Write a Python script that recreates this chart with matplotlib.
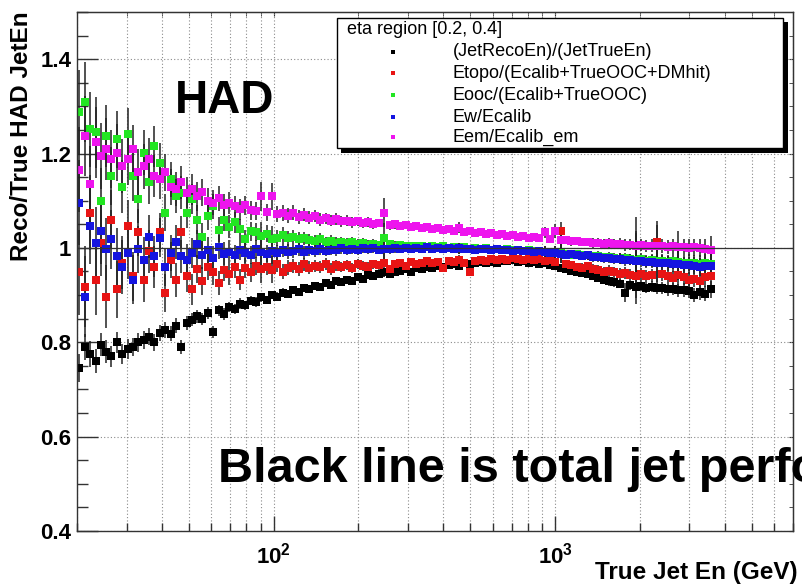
import matplotlib
matplotlib.use('Agg')
import matplotlib.pyplot as plt
from matplotlib.ticker import FixedLocator, FixedFormatter, LogLocator, MultipleLocator, NullFormatter
from matplotlib.patches import Rectangle
from matplotlib.lines import Line2D

plt.rcParams['font.family'] = ['Liberation Sans', 'DejaVu Sans']
plt.rcParams['font.weight'] = 'bold'
plt.rcParams['mathtext.fontset'] = 'custom'
plt.rcParams['mathtext.bf'] = 'Liberation Sans:bold'
plt.rcParams['mathtext.rm'] = 'Liberation Sans'

# bin centres (GeV)
energy = [
    20.4, 21.3, 22.3, 23.3, 24.3, 25.4, 26.5, 27.7, 29.0, 30.3,
    31.6, 33.0, 34.5, 36.1, 37.7, 39.4, 41.1, 43.0, 44.9, 46.9,
    49.0, 51.2, 53.5, 55.8, 58.3, 61.0, 63.7, 66.5, 69.5, 72.6,
    75.9, 79.3, 82.8, 86.5, 90.4, 94.4, 98.6, 103, 108, 112,
    117, 123, 128, 134, 140, 146, 153, 160, 167, 174,
    182, 190, 199, 207, 217, 226, 237, 247, 258, 270,
    282, 294, 308, 321, 336, 351, 366, 383, 400, 418,
    437, 456, 476, 498, 520, 543, 568, 593, 619, 647,
    676, 706, 738, 771, 805, 841, 879, 918, 959, 1002,
    1047, 1094, 1143, 1194, 1247, 1303, 1361, 1422, 1486, 1552,
    1622, 1694, 1770, 1849, 1932, 2018, 2109, 2203, 2301, 2404,
    2512, 2624, 2742, 2864, 2992, 3126, 3266, 3412, 3565,
]

# (JetRecoEn)/(JetTrueEn)
resp = [
    0.745, 0.790, 0.775, 0.760, 0.795, 0.780, 0.770, 0.800, 0.775, 0.785,
    0.790, 0.800, 0.805, 0.812, 0.800, 0.820, 0.825, 0.818, 0.835, 0.790,
    0.840, 0.848, 0.855, 0.850, 0.862, 0.822, 0.868, 0.860, 0.875, 0.870,
    0.882, 0.878, 0.888, 0.885, 0.895, 0.890, 0.900, 0.897, 0.905, 0.902,
    0.910, 0.906, 0.915, 0.912, 0.920, 0.918, 0.925, 0.922, 0.930, 0.927,
    0.933, 0.930, 0.938, 0.935, 0.942, 0.940, 0.945, 0.948, 0.944, 0.950,
    0.952, 0.955, 0.950, 0.958, 0.956, 0.960, 0.958, 0.962, 0.960, 0.963,
    0.965, 0.962, 0.967, 0.966, 0.968, 0.970, 0.967, 0.971, 0.969, 0.972,
    0.972, 0.974, 0.970, 0.973, 0.968, 0.970, 0.966, 0.968, 0.964, 0.962,
    0.958, 0.955, 0.952, 0.950, 0.947, 0.944, 0.940, 0.937, 0.933, 0.930,
    0.927, 0.924, 0.905, 0.922, 0.918, 0.920, 0.916, 0.918, 0.914, 0.915,
    0.912, 0.913, 0.910, 0.911, 0.908, 0.900, 0.906, 0.903, 0.912,
]
err_resp = [
    0.030, 0.028, 0.027, 0.026, 0.025, 0.024, 0.023, 0.022, 0.022, 0.021,
    0.020, 0.020, 0.019, 0.018, 0.018, 0.017, 0.017, 0.016, 0.016, 0.015,
    0.015, 0.014, 0.014, 0.013, 0.013, 0.012, 0.012, 0.012, 0.011, 0.011,
    0.011, 0.010, 0.010, 0.010, 0.010, 0.009, 0.009, 0.009, 0.009, 0.008,
    0.008, 0.008, 0.008, 0.008, 0.007, 0.007, 0.007, 0.007, 0.007, 0.007,
    0.007, 0.006, 0.006, 0.006, 0.006, 0.006, 0.006, 0.010, 0.006, 0.006,
    0.006, 0.006, 0.006, 0.006, 0.006, 0.006, 0.006, 0.006, 0.006, 0.006,
    0.006, 0.006, 0.006, 0.006, 0.006, 0.006, 0.006, 0.006, 0.006, 0.006,
    0.006, 0.006, 0.006, 0.006, 0.006, 0.006, 0.007, 0.007, 0.007, 0.007,
    0.007, 0.007, 0.008, 0.008, 0.008, 0.008, 0.009, 0.009, 0.009, 0.010,
    0.010, 0.010, 0.020, 0.011, 0.025, 0.011, 0.012, 0.012, 0.012, 0.013,
    0.013, 0.013, 0.014, 0.014, 0.015, 0.015, 0.016, 0.016, 0.018,
]

# Etopo/(Ecalib+TrueOOC+DMhit)
topo = [
    0.948, 0.918, 1.075, 0.933, 1.011, 0.897, 1.060, 0.912, 0.969, 1.046,
    0.940, 1.033, 0.933, 0.993, 0.960, 1.033, 0.905, 0.975, 0.933, 1.033,
    0.940, 0.912, 0.955, 0.930, 0.960, 0.948, 0.926, 0.954, 0.945, 0.960,
    0.933, 0.958, 0.948, 0.962, 0.955, 0.960, 0.954, 0.965, 0.950, 0.958,
    0.962, 0.955, 0.965, 0.958, 0.962, 0.960, 0.966, 0.955, 0.963, 0.960,
    0.964, 0.958, 0.966, 0.962, 0.960, 0.965, 0.963, 0.968, 0.955, 0.966,
    0.968, 0.962, 0.970, 0.966, 0.968, 0.972, 0.967, 0.970, 0.958, 0.972,
    0.970, 0.974, 0.968, 0.948, 0.972, 0.975, 0.973, 0.976, 0.974, 0.977,
    0.975, 0.978, 0.976, 0.975, 0.977, 0.974, 0.976, 0.972, 0.974, 0.970,
    1.035, 0.965, 0.963, 0.960, 0.958, 0.962, 0.955, 0.953, 0.950, 0.952,
    0.948, 0.945, 0.947, 0.943, 0.941, 0.945, 0.940, 0.942, 1.013, 0.944,
    0.940, 0.936, 0.942, 0.938, 0.932, 0.935, 0.930, 0.938, 0.940,
]

# Eooc/(Ecalib+TrueOOC)
ooc = [
    1.287, 1.310, 1.251, 1.245, 1.099, 1.237, 1.152, 1.230, 1.130, 1.241,
    1.152, 1.103, 1.202, 1.139, 1.215, 1.181, 1.075, 1.145, 1.109, 1.117,
    1.075, 1.103, 1.060, 1.024, 1.067, 1.088, 1.039, 1.060, 1.045, 1.054,
    1.040, 1.018, 1.035, 1.033, 1.025, 1.030, 1.018, 1.022, 1.028, 1.020,
    1.024, 1.018, 1.020, 1.016, 1.014, 1.018, 1.012, 1.015, 1.011, 1.013,
    1.010, 1.012, 1.008, 1.010, 1.007, 1.009, 1.006, 1.022, 1.008, 1.005,
    1.006, 1.004, 1.005, 1.003, 1.004, 1.002, 1.004, 1.001, 1.003, 1.000,
    1.002, 0.999, 1.001, 0.998, 1.000, 0.997, 0.999, 0.996, 0.998, 0.995,
    0.997, 0.995, 0.996, 0.994, 0.995, 0.993, 0.994, 0.991, 0.992, 0.990,
    0.989, 0.988, 0.986, 0.987, 0.985, 0.984, 0.982, 0.983, 0.980, 0.981,
    0.979, 0.977, 0.978, 0.976, 0.975, 0.976, 0.973, 0.974, 0.972, 0.973,
    0.971, 0.972, 0.970, 0.968, 0.969, 0.967, 0.966, 0.968, 0.965,
]

# Ew/Ecalib
weighted = [
    1.096, 0.897, 1.046, 1.011, 1.035, 0.997, 1.018, 0.982, 0.960, 0.990,
    0.933, 0.997, 0.975, 1.024, 0.982, 1.022, 0.960, 0.990, 1.013, 0.982,
    0.975, 0.990, 1.008, 0.985, 0.995, 0.978, 1.002, 0.988, 0.992, 0.984,
    0.996, 0.990, 0.985, 0.998, 0.992, 0.988, 0.994, 0.990, 0.996, 0.992,
    0.994, 0.997, 0.991, 0.996, 0.993, 0.998, 0.994, 0.996, 0.995, 0.999,
    0.996, 0.998, 0.995, 0.999, 0.997, 1.000, 0.996, 0.998, 0.997, 0.999,
    0.998, 1.000, 0.997, 0.999, 0.998, 1.001, 0.997, 0.999, 0.998, 1.000,
    0.998, 0.999, 0.997, 0.998, 0.996, 0.998, 0.997, 0.995, 0.997, 0.996,
    0.995, 0.994, 0.996, 0.993, 0.994, 0.992, 0.993, 0.991, 0.990, 0.989,
    0.988, 0.986, 0.987, 0.985, 0.983, 0.984, 0.981, 0.980, 0.978, 0.979,
    0.976, 0.977, 0.974, 0.975, 0.972, 0.973, 0.970, 0.971, 0.968, 0.969,
    0.967, 0.965, 0.966, 0.964, 0.963, 0.962, 0.960, 0.961, 0.962,
]

# Eem/Ecalib_em
em = [
    1.166, 1.237, 1.135, 1.224, 1.194, 1.209, 1.188, 1.202, 1.173, 1.188,
    1.209, 1.160, 1.173, 1.188, 1.152, 1.145, 1.160, 1.130, 1.124, 1.139,
    1.117, 1.124, 1.109, 1.118, 1.100, 1.096, 1.105, 1.090, 1.095, 1.088,
    1.082, 1.090, 1.080, 1.078, 1.109, 1.076, 1.109, 1.072, 1.074, 1.068,
    1.075, 1.066, 1.070, 1.064, 1.067, 1.060, 1.063, 1.058, 1.061, 1.056,
    1.058, 1.054, 1.056, 1.052, 1.055, 1.050, 1.053, 1.075, 1.048, 1.050,
    1.046, 1.048, 1.044, 1.046, 1.042, 1.044, 1.040, 1.042, 1.038, 1.040,
    1.036, 1.043, 1.034, 1.036, 1.032, 1.034, 1.030, 1.031, 1.028, 1.030,
    1.026, 1.027, 1.024, 1.025, 1.022, 1.023, 1.020, 1.033, 1.018, 1.035,
    1.016, 1.017, 1.014, 1.015, 1.012, 1.013, 1.010, 1.011, 1.009, 1.010,
    1.008, 1.009, 1.006, 1.007, 1.005, 1.006, 1.004, 1.005, 1.003, 1.004,
    1.002, 1.003, 1.001, 1.002, 1.000, 1.001, 0.999, 0.998, 0.996,
]

# statistical errors of the calibration ratios (same bins for all four)
err_ratio = [
    0.090, 0.085, 0.080, 0.075, 0.070, 0.066, 0.062, 0.060, 0.057, 0.055,
    0.052, 0.050, 0.048, 0.046, 0.044, 0.042, 0.040, 0.038, 0.036, 0.035,
    0.033, 0.032, 0.030, 0.029, 0.028, 0.027, 0.026, 0.025, 0.024, 0.023,
    0.022, 0.021, 0.020, 0.019, 0.030, 0.018, 0.028, 0.017, 0.016, 0.016,
    0.015, 0.015, 0.014, 0.014, 0.013, 0.013, 0.012, 0.012, 0.012, 0.011,
    0.011, 0.011, 0.010, 0.010, 0.010, 0.010, 0.009, 0.030, 0.009, 0.009,
    0.009, 0.008, 0.008, 0.008, 0.008, 0.008, 0.008, 0.007, 0.007, 0.007,
    0.007, 0.012, 0.007, 0.007, 0.007, 0.007, 0.007, 0.007, 0.007, 0.007,
    0.007, 0.007, 0.007, 0.007, 0.008, 0.008, 0.008, 0.012, 0.008, 0.015,
    0.020, 0.008, 0.009, 0.009, 0.009, 0.009, 0.010, 0.010, 0.010, 0.011,
    0.011, 0.012, 0.012, 0.012, 0.060, 0.013, 0.013, 0.014, 0.045, 0.015,
    0.015, 0.016, 0.035, 0.017, 0.018, 0.018, 0.019, 0.020, 0.030,
]

labels = ['(JetRecoEn)/(JetTrueEn)', 'Etopo/(Ecalib+TrueOOC+DMhit)',
          'Eooc/(Ecalib+TrueOOC)', 'Ew/Ecalib', 'Eem/Ecalib_em']
colors = ['black', '#e81414', '#22e622', '#1414e0', '#ee14ee']

W, H = 802, 586


def fx(px):
    return px / W


def fy(py):
    return 1 - py / H


fig = plt.figure(figsize=(W / 100, H / 100), dpi=100)
ax = fig.add_axes([fx(77), fy(531), fx(793) - fx(77), fy(12) - fy(531)])
ax.set_xscale('log')
ax.set_xlim(20, 7000)
ax.set_ylim(0.4, 1.5)

grid_style = dict(color='#8a8a8a', linestyle=(0, (1, 2)), linewidth=0.8)
ax.grid(True, which='major', axis='y', **grid_style)
ax.grid(True, which='both', axis='x', **grid_style)
ax.set_axisbelow(True)

series = [(resp, err_resp), (topo, err_ratio), (ooc, err_ratio),
          (weighted, err_ratio), (em, err_ratio)]
for (vals, errs), c in zip(series, colors):
    ax.errorbar(energy, vals, yerr=errs, fmt='s', ms=5.2, mfc=c, mec=c, mew=0,
                ecolor='#222222', elinewidth=1.1, capsize=0)

ax.axhline(1.0, color='#333333', lw=0.9, zorder=4)

# axis ticks
ax.xaxis.set_major_locator(FixedLocator([100, 1000]))
ax.xaxis.set_major_formatter(FixedFormatter([r'$\mathbf{10^{2}}$', r'$\mathbf{10^{3}}$']))
ax.xaxis.set_minor_locator(LogLocator(base=10, subs=range(2, 10), numticks=50))
ax.xaxis.set_minor_formatter(NullFormatter())
ax.yaxis.set_major_locator(FixedLocator([0.4, 0.6, 0.8, 1.0, 1.2, 1.4]))
ax.yaxis.set_major_formatter(FixedFormatter(['0.4', '0.6', '0.8', '1', '1.2', '1.4']))
ax.yaxis.set_minor_locator(MultipleLocator(0.05))

ax.tick_params(axis='x', which='major', direction='in', length=11, width=1, pad=8,
               labelsize=16, color='#333333')
ax.tick_params(axis='x', which='minor', direction='in', length=6, width=1, color='#333333')
ax.tick_params(axis='y', which='major', direction='in', length=15, width=1, pad=4,
               labelsize=16, color='#333333')
ax.tick_params(axis='y', which='minor', direction='in', length=8, width=1, color='#333333')
for sp in ax.spines.values():
    sp.set_color('#333333')
    sp.set_linewidth(1)

top = ax.secondary_xaxis('top')
top.xaxis.set_major_locator(FixedLocator([100, 1000]))
top.xaxis.set_minor_locator(LogLocator(base=10, subs=range(2, 10), numticks=50))
top.xaxis.set_major_formatter(NullFormatter())
top.xaxis.set_minor_formatter(NullFormatter())
top.tick_params(which='both', direction='in', length=3, color='#333333')
top.spines['top'].set_color('#333333')

right = ax.secondary_yaxis('right')
right.yaxis.set_major_locator(FixedLocator([0.4, 0.6, 0.8, 1.0, 1.2, 1.4]))
right.yaxis.set_minor_locator(MultipleLocator(0.05))
right.yaxis.set_major_formatter(NullFormatter())
right.yaxis.set_minor_formatter(NullFormatter())
right.tick_params(which='both', direction='in', length=3, color='#333333')
right.spines['right'].set_color('#333333')

fig.text(fx(22), fy(11), 'Reco/True HAD JetEn', rotation=90, ha='center', va='top',
         fontsize=17.5)
fig.text(fx(798), fy(573), 'True Jet En (GeV)', ha='right', va='center', fontsize=17.5)
fig.text(fx(175), fy(113), 'HAD', fontsize=33, va='baseline')
fig.text(fx(218), fy(482), 'Black line is total jet performance', fontsize=35,
         va='baseline', zorder=8)

# legend box with shadow
fig.add_artist(Rectangle((fx(341), fy(153)), fx(788) - fx(341), fy(22) - fy(153),
                         transform=fig.transFigure, facecolor='black', edgecolor='none',
                         zorder=5))
fig.add_artist(Rectangle((fx(337), fy(148)), fx(783) - fx(337), fy(18) - fy(148),
                         transform=fig.transFigure, facecolor='white', edgecolor='black',
                         linewidth=1, zorder=6))
fig.text(fx(347), fy(30), 'eta region [0.2, 0.4]', fontsize=13, fontweight='normal',
         va='center', zorder=7)
entry_y = [52, 73, 95, 117, 137]
for lab, c, py in zip(labels, colors, entry_y):
    fig.add_artist(Line2D([fx(393)], [fy(py)], marker='s', ms=3, mew=0, color=c,
                          linestyle='none', transform=fig.transFigure, zorder=7))
    fig.text(fx(453), fy(py), lab, fontsize=13, fontweight='normal', va='center', zorder=7)

fig.savefig('out.png', dpi=100)
